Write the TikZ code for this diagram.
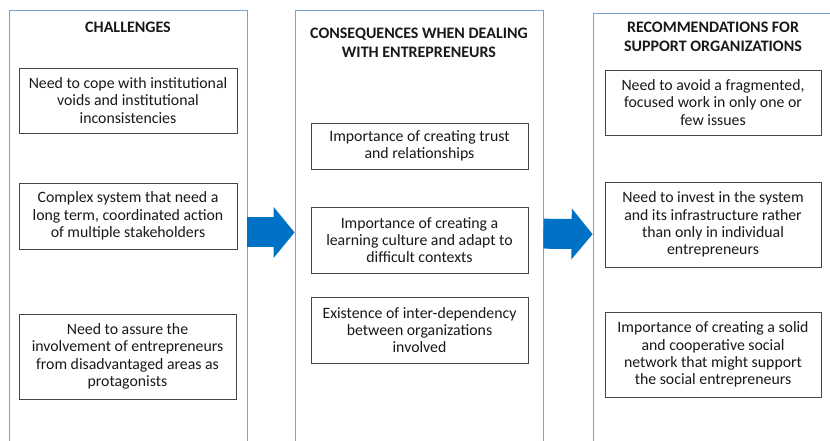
\documentclass[tikz,border=0pt]{standalone}
\usepackage{fontspec}
\setmainfont{Carlito}
\usetikzlibrary{arrows.meta, positioning}

\definecolor{colframe}{RGB}{122,163,212}
\definecolor{flowblue}{RGB}{0,114,198}
\definecolor{boxline}{RGB}{70,70,70}

\begin{document}
\begin{tikzpicture} [
    x=1pt, y=-1pt,
    column/.style={rectangle, draw=colframe, line width=0.9pt, minimum height=444pt, anchor=north},
    heading/.style={font=\fontsize{16}{19.5}\selectfont\bfseries, align=center, text=black!90},
    item/.style={rectangle, draw=boxline, line width=0.8pt, fill=white, font=\fontsize{15.8}{17.4}\selectfont, align=center, inner sep=0pt, text=black!90},
    flow/.style={-{Triangle[length=21pt, width=50pt]}, line width=30pt, draw=flowblue}
]

\useasboundingbox (0,0) rectangle (830,441);
\clip (0,0) rectangle (830,441);

% LAYER 1: the three columns, open past the lower edge
\node[column, minimum width=238pt] (challenges) at (128,10) {};
\node[column, minimum width=248pt] (consequences) at (419,10) {};
\node[column, minimum width=250pt] (recommend) at (718,13) {};

% LAYER 2: column headings
\node[heading] (title_ch) at (128,27) {CHALLENGES};
\node[heading] (title_co) at (419,43) {CONSEQUENCES WHEN DEALING\\WITH ENTREPRENEURS};
\node[heading] (title_re) at (713,37) {RECOMMENDATIONS FOR\\SUPPORT ORGANIZATIONS};

% LAYER 3: boxes inside each column
\node[item, minimum width=218pt, minimum height=65pt] (ch_voids) at (128,100.5) {
    Need to cope with institutional\\
    voids and institutional\\
    inconsistencies
};
\node[item, minimum width=218pt, minimum height=66pt] (ch_system) at (128,216) {
    Complex system that need a\\
    long term, coordinated action\\
    of multiple stakeholders
};
\node[item, minimum width=217pt, minimum height=85pt] (ch_involve) at (127.5,356.5) {
    Need to assure the\\
    involvement of entrepreneurs\\
    from disadvantaged areas as\\
    protagonists
};

\node[item, minimum width=217pt, minimum height=46pt] (co_trust) at (419.5,146) {
    Importance of creating trust\\
    and relationships
};
\node[item, minimum width=217pt, minimum height=66pt] (co_learning) at (419.5,240) {
    Importance of creating a\\
    learning culture and adapt to\\
    difficult contexts
};
\node[item, minimum width=217pt, minimum height=66pt] (co_depend) at (419.5,330) {
    Existence of inter-dependency\\
    between organizations\\
    involved
};

\node[item, minimum width=216pt, minimum height=65pt] (re_fragment) at (713,102.5) {
    Need to avoid a fragmented,\\
    focused work in only one or\\
    few issues
};
\node[item, minimum width=216pt, minimum height=85pt] (re_invest) at (713,224.5) {
    Need to invest in the system\\
    and its infrastructure rather\\
    than only in individual\\
    entrepreneurs
};
\node[item, minimum width=216pt, minimum height=85pt] (re_network) at (713,354.5) {
    Importance of creating a solid\\
    and cooperative social\\
    network that might support\\
    the social entrepreneurs
};

% LAYER 4: block arrows between the columns
\draw[flow] (challenges) -- (consequences);
\draw[flow] (consequences) -- (recommend);

\end{tikzpicture}
\end{document}
